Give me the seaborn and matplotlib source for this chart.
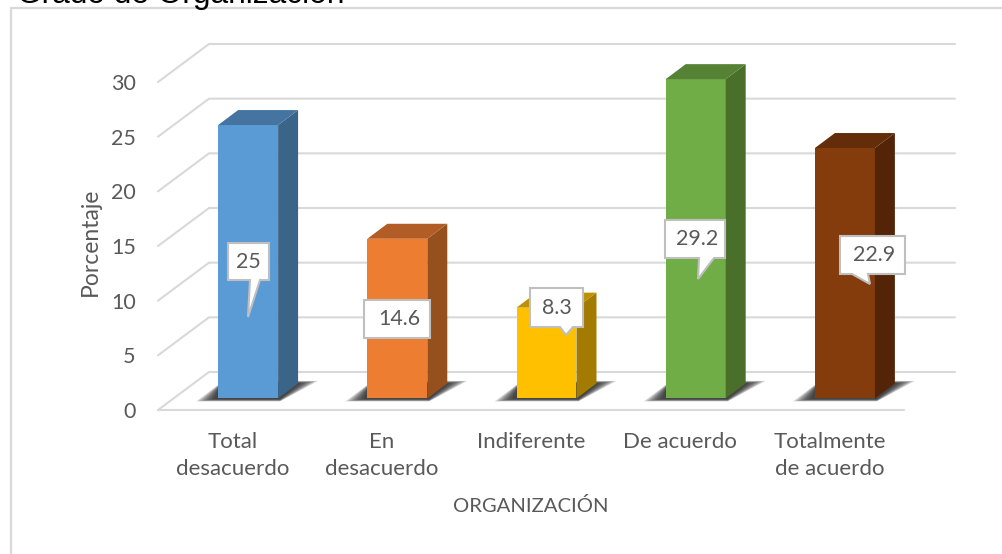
import matplotlib
matplotlib.use("Agg")
import matplotlib.pyplot as plt
from matplotlib.patches import Polygon
from matplotlib.transforms import Affine2D
import pandas as pd
import seaborn as sns

categorias = ["Total\ndesacuerdo", "En\ndesacuerdo", "Indiferente", "De acuerdo", "Totalmente\nde acuerdo"]
valores = [25, 14.6, 8.3, 29.2, 22.9]
etiquetas = ["25", "14.6", "8.3", "29.2", "22.9"]
colores = ["#5B9BD5", "#ED7D31", "#FFC000", "#70AD47", "#843C0C"]
lado = ["#3A6588", "#95501D", "#A37B00", "#4A6F2B", "#532407"]
techo = ["#44749F", "#B25D25", "#BF9000", "#558235", "#632D09"]
ticks_y = [0, 5, 10, 15, 20, 25, 30]

# callouts in picture pixels: box x0, x1, y0, y1 and tail (base left, base right, tip x, tip y)
cajas = [(228, 269, 243, 280), (364, 430, 300, 338), (530, 583, 288, 327), (665, 725, 220, 258), (840, 905, 236, 274)]
colas = [(250, 260, 248, 317), None, (560, 573, 566, 335), (699, 714, 698, 279), (852, 868, 870, 284)]

W, H = 1003, 554
GRIS = "#595959"
LINEA = "#D9D9D9"

sns.set_theme(style="white")
plt.rcParams["font.family"] = ["Lato", "DejaVu Sans"]

fig = plt.figure(figsize=(W / 100, H / 100), dpi=100)

# background layer, picture pixel coords
fondo = fig.add_axes([0, 0, 1, 1], zorder=0)
fondo.set_xlim(0, W)
fondo.set_ylim(H, 0)
fondo.set_axis_off()
fondo.plot([11, 11, W], [H, 7.5, 7.5], color=LINEA, lw=1.6)
fondo.text(17, 3, "Grado de Organización", family="Liberation Sans", fontsize=22.8, color="black", va="baseline")

# front plane of the chart
ax = fig.add_axes([158 / W, 1 - 410 / H, (904 - 158) / W, (410 - 82) / H], zorder=1)
ax.patch.set_alpha(0)
df = pd.DataFrame({"categoria": categorias, "valor": valores})
sns.barplot(data=df, x="categoria", y="valor", hue="categoria", palette=colores, legend=False,
            width=0.402, saturation=1, ax=ax, zorder=3)
ax.set_xlim(-0.5, 4.5)
ax.set_ylim(0, 30)
ax.set_yticks(ticks_y)

px_x = (904 - 158) / 5
px_y = (410 - 82) / 30
fondo_dx, fondo_dy = 51 / px_x, 38 / px_y

# back wall and floor
for t in ticks_y:
    ax.plot([-0.5, -0.5 + fondo_dx, 4.5 + fondo_dx], [t, t + fondo_dy, t + fondo_dy],
            color=LINEA, lw=1.5, clip_on=False, zorder=1)
ax.plot([-0.5, 4.5], [0, 0], color=LINEA, lw=1.5, clip_on=False, zorder=1)

# bars sit inside the depth of the floor, so move them back
mover = ax.transData + Affine2D().translate(15.5, 11.6)
prof_x, prof_y = 20 / px_x, 15 / px_y

for i, barra in enumerate(ax.patches):
    x0 = barra.get_x()
    x1 = x0 + barra.get_width()
    v = barra.get_height()
    barra.set_transform(mover)
    barra.set_edgecolor("none")
    barra.set_clip_on(False)

    # soft floor shadow made of stacked layers, tips fade out
    for k in range(10):
        sx = k * 2.0 / px_x
        sy = k * 0.25 / px_y
        sombra = [(x0 - 22 / px_x + sx, -3 / px_y + sy), (x1 + 2 / px_x, -3 / px_y + sy),
                  (x1 + 40 / px_x - sx, 17.5 / px_y - sy), (x1 + 15 / px_x, 17.5 / px_y - sy),
                  (x0 + 2 / px_x, 15 / px_y - sy)]
        ax.add_patch(Polygon(sombra, closed=True, transform=mover, facecolor="#1A1A1A", edgecolor="none",
                             alpha=0.15, zorder=2, clip_on=False))

    ax.add_patch(Polygon([(x1, 0), (x1 + prof_x, prof_y), (x1 + prof_x, v + prof_y), (x1, v)], closed=True,
                         transform=mover, facecolor=lado[i], edgecolor="none", zorder=3, clip_on=False))
    ax.add_patch(Polygon([(x0, v), (x1, v), (x1 + prof_x, v + prof_y), (x0 + prof_x, v + prof_y)], closed=True,
                         transform=mover, facecolor=techo[i], edgecolor="none", zorder=3, clip_on=False))

sns.despine(ax=ax, left=True, bottom=True)
ax.tick_params(axis="both", length=0, labelsize=15.5, labelcolor=GRIS)
ax.tick_params(axis="x", pad=16, labelsize=16)
ax.tick_params(axis="y", pad=16)
ax.set_xlabel("ORGANIZACIÓN", fontsize=14.6, color=GRIS)
ax.set_ylabel("Porcentaje", fontsize=16.5, color=GRIS)
ax.xaxis.set_label_coords(0.5, -(497 - 410) / 328)
ax.yaxis.set_label_coords((92 - 158) / 746 + 0.012, 0.512)
for lab in ax.get_xticklabels():
    lab.set_linespacing(1.45)

# callouts on top of everything
arriba = fig.add_axes([0, 0, 1, 1], zorder=2)
arriba.set_xlim(0, W)
arriba.set_ylim(H, 0)
arriba.set_axis_off()
for caja, cola, txt in zip(cajas, colas, etiquetas):
    x0, x1, y0, y1 = caja
    pts = [(x0, y0), (x1, y0), (x1, y1)]
    if cola is not None:
        pts += [(cola[1], y1), (cola[2], cola[3]), (cola[0], y1)]
    pts.append((x0, y1))
    arriba.add_patch(Polygon(pts, closed=True, facecolor="white", edgecolor="#BFBFBF", lw=1.5, joinstyle="miter"))
    arriba.text((x0 + x1) / 2 + (2 if len(txt) > 3 else 0), (y0 + y1) / 2, txt, fontsize=15.4, color=GRIS,
                ha="center", va="center")

fig.savefig("out.png", dpi=100)
